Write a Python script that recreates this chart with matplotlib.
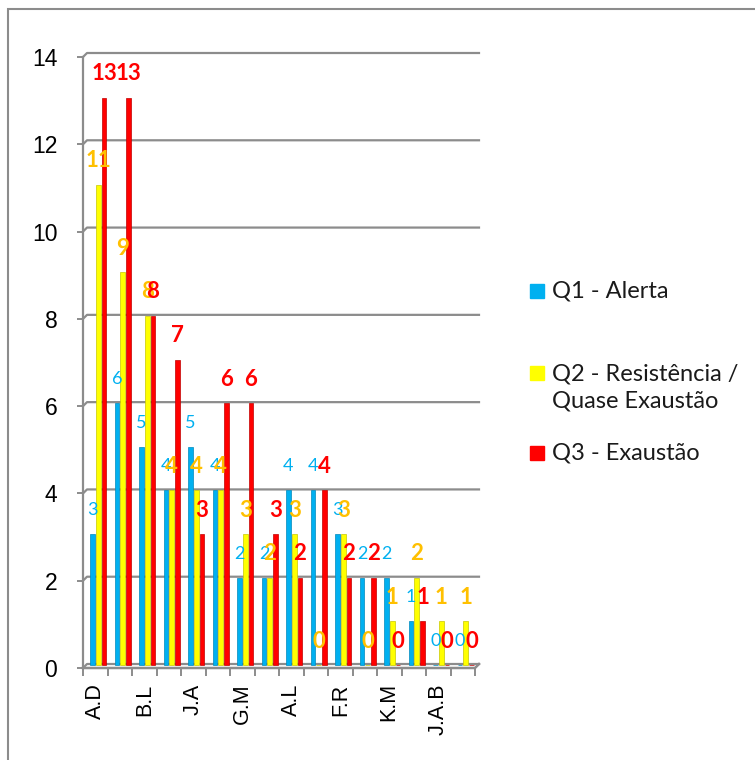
import matplotlib
matplotlib.use("Agg")
import matplotlib.pyplot as plt
import matplotlib.transforms as mtransforms
from matplotlib.patches import Rectangle

# respondents (only every other name fits on the axis)
students = ["A.D", "", "B.L", "", "J.A", "", "G.M", "", "A.L", "", "F.R", "", "K.M", "", "J.A.B", ""]

series_names = ["Q1 - Alerta", "Q2 - Resistência /\nQuase Exaustão", "Q3 - Exaustão"]
q1 = [3, 6, 5, 4, 5, 4, 2, 2, 4, 4, 3, 2, 2, 1, 0, 0]
q2 = [11, 9, 8, 4, 4, 4, 3, 2, 3, 0, 3, 0, 1, 2, 1, 1]
q3 = [13, 13, 8, 7, 3, 6, 6, 3, 2, 4, 2, 2, 0, 1, 0, 0]

bar_colors = ["#00B0F0", "#FFFF00", "#FF0000"]
edge_colors = ["#0089BC", "#C8C800", "#C00000"]
label_colors = ["#00B0F0", "#FFC000", "#FF0000"]
label_weights = ["normal", "bold", "bold"]
label_sizes = [13, 16, 16]

W, H, DPI = 755, 760, 100
fig = plt.figure(figsize=(W / DPI, H / DPI), dpi=DPI)

ax_l, ax_r, ax_t, ax_b = 83, 475, 57, 668
ax = fig.add_axes([ax_l / W, 1 - ax_b / H, (ax_r - ax_l) / W, (ax_b - ax_t) / H])
n = len(students)
ax.set_xlim(-0.5, n - 0.5)
ax.set_ylim(0, 14)
ax.patch.set_alpha(0)

grid_c = "#8C8C8C"
px_x = n / (ax_r - ax_l)      # data units per pixel
px_y = 14 / (ax_b - ax_t)

# back wall gridlines, pushed back a few pixels for the 3d look
dx, dy = 4 * px_x, 4 * px_y
for level in range(0, 15, 2):
    ax.plot([-0.5, -0.5 + dx, n - 0.5 + dx], [level, level + dy, level + dy],
            color=grid_c, lw=1.6, clip_on=False, zorder=1, solid_joinstyle="round")
# floor edge
ax.plot([-0.5, n - 0.5, n - 0.5 + dx], [0, 0, dy], color=grid_c, lw=1.8,
        clip_on=False, zorder=1)

# bars sit a little behind the front of the floor
depth = mtransforms.ScaledTranslation(3 / DPI, 3 / DPI, fig.dpi_scale_trans)
bar_tr = ax.transData + depth
step, width = 0.235, 0.2
for i, vals in enumerate([q1, q2, q3]):
    xs = [k + (i - 1) * step for k in range(n)]
    ax.bar(xs, vals, width=width, color=bar_colors[i], edgecolor=edge_colors[i],
           linewidth=0.5, transform=bar_tr, zorder=3)
    for x, v in zip(xs, vals):
        ax.annotate(str(v), (x, v), xytext=(3 * 0.72, (3 + 24) * 0.72),
                    textcoords="offset points", ha="center", va="center",
                    color=label_colors[i], fontsize=label_sizes[i],
                    fontweight=label_weights[i], family="Lato", zorder=5,
                    annotation_clip=False)

for s in ["top", "right"]:
    ax.spines[s].set_visible(False)
ax.spines["left"].set_color(grid_c)
ax.spines["left"].set_linewidth(1.6)
ax.spines["bottom"].set_visible(False)

ax.set_yticks(range(0, 15, 2))
ax.tick_params(axis="y", direction="out", length=4.5, width=1.4, color=grid_c,
               pad=14, labelsize=16.5)
for t in ax.get_yticklabels():
    t.set_family("Liberation Sans")

ax.set_xticks(range(n))
ax.set_xticklabels(students, rotation=90, family="Liberation Sans", fontsize=15.5)
ax.set_xticks([k - 0.5 for k in range(n + 1)], minor=True)
ax.tick_params(axis="x", which="major", length=0, pad=11)
ax.tick_params(axis="x", which="minor", direction="out", length=5.5, width=1.4,
               color=grid_c)

# legend drawn by hand so the two-line entry lines up with its marker
legend_y = [291, 387.5, 453]
marker_y = [291, 372.5, 453]
for i, name in enumerate(series_names):
    fig.patches.append(Rectangle((530 / W, 1 - (marker_y[i] + 7) / H), 14 / W, 14 / H,
                                 transform=fig.transFigure, color=bar_colors[i]))
    fig.text(552 / W, 1 - legend_y[i] / H, name, ha="left", va="center",
             fontsize=17, family="Lato", linespacing=1.3, color="#1a1a1a")

# chart frame
fig.patches.append(Rectangle((8 / W, -0.05), 1.1, 1 - 9 / H + 0.05,
                             transform=fig.transFigure, fill=False,
                             edgecolor="#8C8C8C", lw=1.5))

fig.savefig("out.png", dpi=DPI)
